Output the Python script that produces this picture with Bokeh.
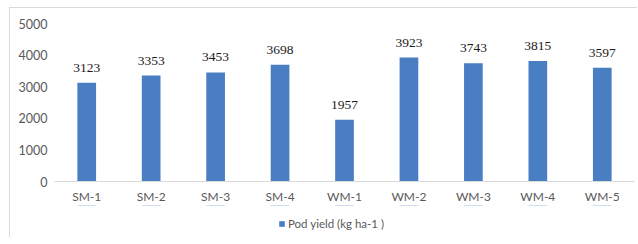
from bokeh.plotting import figure
from bokeh.layouts import column
from bokeh.models import ColumnDataSource, LabelSet, Legend, LegendItem, Range1d, FixedTicker, FactorRange
from bokeh.embed import file_html
from bokeh.resources import INLINE

categories = ["SM-1", "SM-2", "SM-3", "SM-4", "WM-1", "WM-2", "WM-3", "WM-4", "WM-5"]
pod_yield = [3123, 3353, 3453, 3698, 1957, 3923, 3743, 3815, 3597]
y_ticks = [0, 1000, 2000, 3000, 4000, 5000]
series_name = "Pod yield (kg ha-1 )"

BLUE = "#4A7EC2"
GRAY = "#595959"
BORDER = "#d9d9d9"
FONT = "Lato"

src = ColumnDataSource(dict(cat=categories, val=pod_yield, lab=[str(v) for v in pod_yield]))

p = figure(x_range=categories, y_range=Range1d(0, 5000), width=628, height=198,
           output_backend="svg", toolbar_location=None,
           min_border_left=44, min_border_right=4, min_border_top=15, min_border_bottom=20)
p.outline_line_color = None
p.background_fill_color = "white"
p.border_fill_color = "white"
p.styles = {"margin-left": "9px", "margin-top": "7px",
            "border-top": f"1px solid {BORDER}", "border-left": f"1px solid {BORDER}"}

r = p.vbar(x="cat", top="val", width=0.29, source=src, fill_color=BLUE, line_color=None)

p.xgrid.grid_line_color = None
p.ygrid.grid_line_color = None

for ax in (p.xaxis, p.yaxis):
    ax.major_tick_out = 0
    ax.major_tick_in = 0
    ax.minor_tick_out = 0
    ax.minor_tick_in = 0
    ax.major_tick_line_color = None
    ax.minor_tick_line_color = None

p.yaxis.ticker = FixedTicker(ticks=y_ticks)
p.yaxis.axis_line_color = None
p.yaxis.major_label_text_font = FONT
p.yaxis.major_label_text_font_size = "12.5px"
p.yaxis.major_label_text_color = GRAY
p.yaxis.major_label_standoff = 7

p.xaxis.axis_line_color = BORDER
p.xaxis.major_label_text_font = FONT
p.xaxis.major_label_text_font_size = "12px"
p.xaxis.major_label_text_color = GRAY
p.xaxis.major_label_standoff = 7

labels = LabelSet(x="cat", y="val", text="lab", source=src, text_align="center",
                  text_baseline="bottom", y_offset=11, text_font=FONT,
                  text_font_size="13.5px", text_color="#1a1a1a")
p.add_layout(labels)

# legend strip below the chart (its bars lie outside the visible range; only the legend shows)
lg = figure(width=628, height=32, output_backend="svg", toolbar_location=None,
            x_range=FactorRange(factors=categories), y_range=Range1d(-20, -10),
            x_axis_type=None, y_axis_type=None,
            min_border_left=0, min_border_right=0, min_border_top=0, min_border_bottom=0)
lg.outline_line_color = None
lg.grid.grid_line_color = None
lg.border_fill_color = "white"
lg.background_fill_color = "white"
lg.styles = {"margin-left": "9px", "border-left": f"1px solid {BORDER}"}
proxy = lg.vbar(x="cat", top="val", width=0.29, source=src, fill_color=BLUE, line_color=None)
legend = Legend(items=[LegendItem(label=series_name, renderers=[proxy])],
                location=(224, 7), orientation="horizontal",
                glyph_width=7, glyph_height=7, label_text_font=FONT,
                label_text_font_size="11.5px", label_text_color=GRAY,
                border_line_color=None, background_fill_alpha=0,
                margin=0, padding=0, label_standoff=3)
lg.add_layout(legend)

layout = column(p, lg, spacing=0)

open("out.html", "w").write(file_html(layout, INLINE))
